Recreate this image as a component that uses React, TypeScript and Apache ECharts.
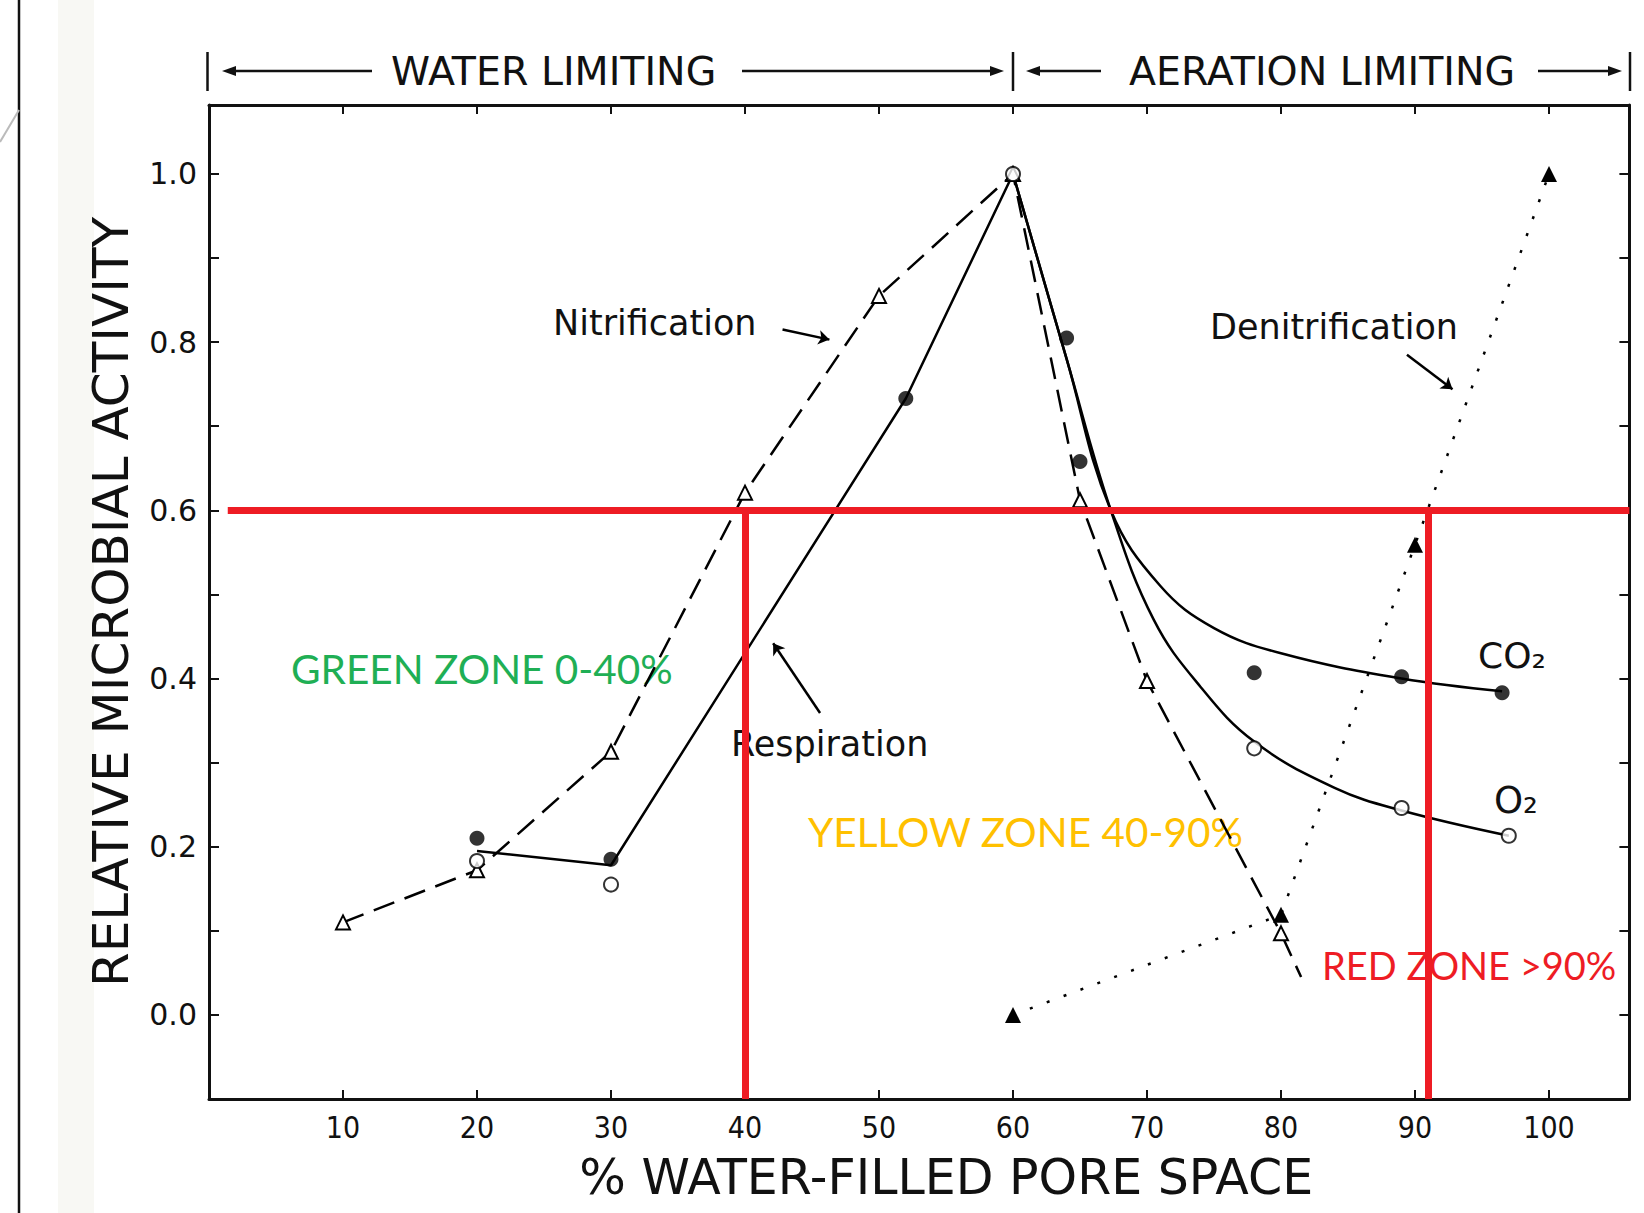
import React, { useEffect, useRef } from "react";
import * as echarts from "echarts";

// ---- data ----
const nitrificationX = [10, 20, 30, 40, 50, 60, 65, 70, 80, 81.5];
const nitrificationY = [0.11, 0.172, 0.313, 0.621, 0.855, 1.0, 0.612, 0.397, 0.097, 0.045];

const respirationLineX = [20, 30, 52, 60];
const respirationLineY = [0.195, 0.178, 0.733, 1.0];

const co2CurveX = [60, 64, 67.3, 71, 75, 80, 89, 96.5];
const co2CurveY = [1.0, 0.78, 0.6, 0.51, 0.46, 0.43, 0.4, 0.385];

const o2CurveX = [60, 64, 67.3, 70.5, 74, 78, 84, 89, 97];
const o2CurveY = [1.0, 0.78, 0.6, 0.47, 0.39, 0.325, 0.27, 0.243, 0.213];

const co2PointsX = [20, 30, 52, 64, 65, 78, 89, 96.5];
const co2PointsY = [0.21, 0.185, 0.733, 0.805, 0.658, 0.407, 0.402, 0.383];

const o2PointsX = [20, 30, 60, 78, 89, 97];
const o2PointsY = [0.183, 0.155, 1.0, 0.317, 0.246, 0.213];

const denitrificationX = [60, 80, 90, 100];
const denitrificationY = [0.0, 0.119, 0.559, 1.0];

const thresholdLevel = 0.6;
const zoneBoundaries = [40, 91];

const xTickLabels = ["10", "20", "30", "40", "50", "60", "70", "80", "90", "100"];
const yTickLabels = ["0.0", "0.2", "0.4", "0.6", "0.8", "1.0"];

const pairs = (xs: number[], ys: number[]) => xs.map((x, i) => [x, ys[i]]);

const FONT = "'DejaVu Sans', sans-serif";
const INK = "#111";

export default function App() {
  const ref = useRef<HTMLDivElement>(null);

  useEffect(() => {
    const chart = echarts.init(ref.current!, null, { renderer: "svg" });

    const nitData = pairs(nitrificationX, nitrificationY).map((v, i, arr) =>
      i === arr.length - 1 ? { value: v, symbol: "none" } : { value: v }
    );

    const headY = 71;
    const hLine = (x1: number, x2: number) => ({
      type: "line",
      shape: { x1, y1: headY, x2, y2: headY },
      style: { stroke: INK, lineWidth: 2.5 },
    });
    const vBar = (x: number) => ({
      type: "line",
      shape: { x1: x, y1: 52, x2: x, y2: 91 },
      style: { stroke: INK, lineWidth: 2.5 },
    });
    const head = (x: number, dir: number) => ({
      type: "polygon",
      shape: {
        points: [
          [x, headY],
          [x - dir * 14, headY - 5],
          [x - dir * 14, headY + 5],
        ],
      },
      style: { fill: INK },
    });
    const txt = (
      text: string,
      x: number,
      y: number,
      fontSize: number,
      color = INK,
      family = FONT
    ) => ({
      type: "text",
      x,
      y,
      style: {
        text,
        fill: color,
        fontSize,
        fontFamily: family,
        align: "left",
        verticalAlign: "middle",
      },
    });

    const option: any = {
      animation: false,
      backgroundColor: "#fff",
      grid: { left: 209, right: 14.6, top: 105, bottom: 114, containLabel: false },
      xAxis: [
        {
          type: "value",
          min: 0,
          max: 106,
          interval: 10,
          position: "bottom",
          axisLine: { show: true, onZero: false, lineStyle: { color: INK, width: 3 } },
          axisTick: { show: true, inside: true, length: 9, lineStyle: { color: INK, width: 2 } },
          axisLabel: {
            fontSize: 30,
            color: INK,
            margin: 13,
            fontFamily: "'DejaVu Sans Condensed', 'DejaVu Sans', sans-serif",
            formatter: (v: number) => {
              const i = Math.round(v / 10) - 1;
              return Math.abs(v - Math.round(v / 10) * 10) < 1e-6 && i >= 0 && i < xTickLabels.length
                ? xTickLabels[i]
                : "";
            },
          },
          splitLine: { show: false },
          name: "% WATER-FILLED PORE SPACE",
          nameLocation: "middle",
          nameGap: 54,
          nameTextStyle: { fontSize: 49, color: INK, fontFamily: FONT, padding: [0, 0, 0, 54] },
        },
        {
          type: "value",
          min: 0,
          max: 106,
          interval: 10,
          position: "top",
          axisLine: { show: true, onZero: false, lineStyle: { color: INK, width: 3 } },
          axisTick: { show: true, inside: true, length: 9, lineStyle: { color: INK, width: 2 } },
          axisLabel: { show: false },
          splitLine: { show: false },
        },
      ],
      yAxis: [
        {
          type: "value",
          min: -0.1,
          max: 1.082,
          interval: 0.1,
          position: "left",
          axisLine: { show: true, onZero: false, lineStyle: { color: INK, width: 3 } },
          axisTick: { show: true, inside: true, length: 10, lineStyle: { color: INK, width: 2 } },
          axisLabel: {
            fontSize: 30,
            color: INK,
            margin: 12,
            fontFamily: FONT,
            formatter: (v: number) => {
              const r = Math.round(v * 10);
              if (Math.abs(v * 10 - r) > 1e-6 || r < 0 || r > 10 || r % 2 !== 0) return "";
              return yTickLabels[r / 2];
            },
          },
          splitLine: { show: false },
          name: "RELATIVE MICROBIAL ACTIVITY",
          nameLocation: "middle",
          nameRotate: 90,
          nameGap: 73,
          nameTextStyle: { fontSize: 50, color: INK, fontFamily: FONT },
        },
        {
          type: "value",
          min: -0.1,
          max: 1.082,
          interval: 0.1,
          position: "right",
          axisLine: { show: true, onZero: false, lineStyle: { color: INK, width: 3 } },
          axisTick: { show: true, inside: true, length: 10, lineStyle: { color: INK, width: 2 } },
          axisLabel: { show: false },
          splitLine: { show: false },
        },
      ],
      series: [
        {
          name: "Nitrification",
          type: "line",
          silent: true,
          data: nitData,
          symbol: "triangle",
          symbolSize: 14,
          itemStyle: { color: "#fff", borderColor: "#000", borderWidth: 2 },
          lineStyle: { color: "#000", width: 2.5, type: [22, 11] },
          z: 3,
        },
        {
          name: "Respiration",
          type: "line",
          silent: true,
          data: pairs(respirationLineX, respirationLineY),
          symbol: "none",
          lineStyle: { color: "#000", width: 2.5 },
          z: 3,
        },
        {
          name: "CO2 curve",
          type: "line",
          silent: true,
          data: pairs(co2CurveX, co2CurveY),
          symbol: "none",
          smooth: 0.4,
          lineStyle: { color: "#000", width: 2.5 },
          z: 3,
        },
        {
          name: "O2 curve",
          type: "line",
          silent: true,
          data: pairs(o2CurveX, o2CurveY),
          symbol: "none",
          smooth: 0.4,
          lineStyle: { color: "#000", width: 2.5 },
          z: 3,
        },
        {
          name: "Denitrification",
          type: "line",
          silent: true,
          data: pairs(denitrificationX, denitrificationY),
          symbol: "triangle",
          symbolSize: 16,
          itemStyle: { color: "#000" },
          lineStyle: { color: "#000", width: 2.5, type: [3, 15] },
          z: 3,
        },
        {
          name: "CO2",
          type: "scatter",
          silent: true,
          data: pairs(co2PointsX, co2PointsY),
          symbol: "circle",
          symbolSize: 15,
          itemStyle: { color: "#000" },
          z: 4,
        },
        {
          name: "O2",
          type: "scatter",
          silent: true,
          data: pairs(o2PointsX, o2PointsY),
          symbol: "circle",
          symbolSize: 14,
          itemStyle: { color: "#fff", borderColor: "#000", borderWidth: 2 },
          z: 4,
        },
        {
          name: "zones",
          type: "line",
          silent: true,
          data: [],
          z: 6,
          markLine: {
            silent: true,
            symbol: ["none", "none"],
            label: { show: false },
            lineStyle: { color: "#EE1C24", width: 7, type: "solid" },
            data: [
              [{ coord: [1.4, thresholdLevel] }, { coord: [106, thresholdLevel] }],
              ...zoneBoundaries.map((b) => [{ coord: [b, thresholdLevel] }, { coord: [b, -0.1] }]),
            ],
          },
        },
        {
          name: "pointers",
          type: "line",
          silent: true,
          data: [],
          z: 5,
          markLine: {
            silent: true,
            symbol: ["none", "arrow"],
            symbolSize: 11,
            label: { show: false },
            lineStyle: { color: "#000", width: 2.5, type: "solid" },
            data: [
              [{ coord: [42.8, 0.815] }, { coord: [46.3, 0.803] }],
              [{ coord: [45.6, 0.359] }, { coord: [42.1, 0.442] }],
              [{ coord: [89.4, 0.785] }, { coord: [92.8, 0.744] }],
            ],
          },
        },
      ],
      graphic: [
        { type: "rect", shape: { x: 58, y: 0, width: 36, height: 1213 }, style: { fill: "#f8f8f4" }, z: -10 },
        { type: "line", shape: { x1: 19, y1: 0, x2: 19, y2: 1213 }, style: { stroke: "#111", lineWidth: 2.5 } },
        { type: "line", shape: { x1: 0, y1: 142, x2: 19, y2: 110 }, style: { stroke: "#bbb", lineWidth: 2 } },
        vBar(207.5),
        hLine(232, 372),
        head(222, -1),
        txt("WATER LIMITING", 391, headY, 39.5),
        hLine(742, 992),
        head(1004, 1),
        vBar(1013),
        hLine(1040, 1101),
        head(1026, -1),
        txt("AERATION LIMITING", 1129, headY, 39.5),
        hLine(1538, 1610),
        head(1622, 1),
        vBar(1630),
        txt("Nitrification", 553, 323, 35),
        txt("Respiration", 731, 744, 35),
        txt("Denitrification", 1210, 327, 35),
        txt("CO₂", 1478, 655, 36),
        txt("O₂", 1494, 800, 37),
        txt("GREEN ZONE 0-40%", 291, 668, 40.5, "#1FAF55", "Lato, sans-serif"),
        txt("YELLOW ZONE 40-90%", 808, 831, 40.5, "#FFC000", "Lato, sans-serif"),
        txt("RED ZONE >90%", 1322, 965, 38, "#EE1C24", "Lato, sans-serif"),
      ],
    };

    chart.setOption(option);
    return () => chart.dispose();
  }, []);

  return (
    <div
      ref={ref}
      style={{ position: "absolute", left: 0, top: 0, width: 1644, height: 1213, background: "#fff" }}
    />
  );
}
